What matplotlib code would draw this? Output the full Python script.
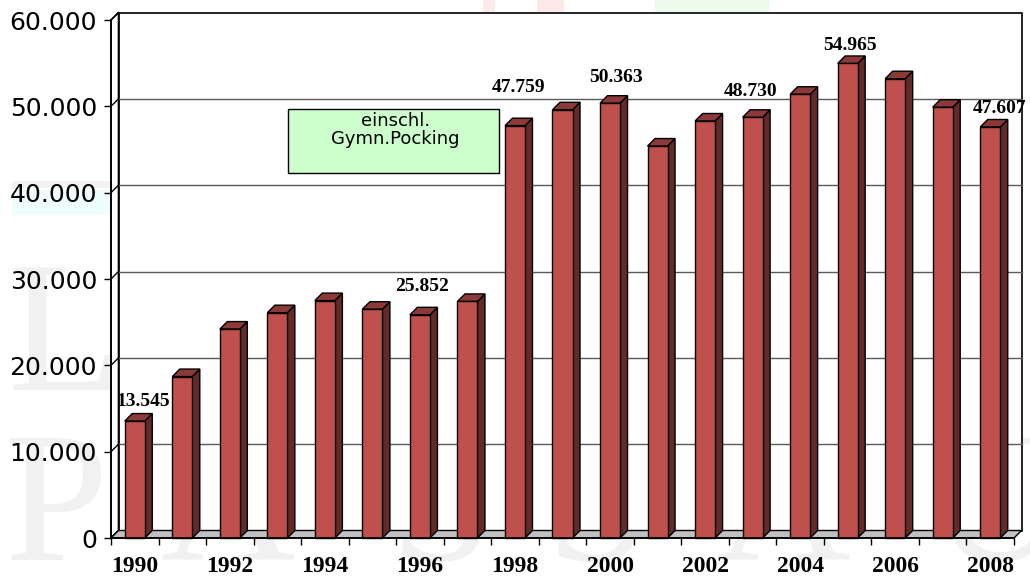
import numpy as np
import matplotlib
matplotlib.use("Agg")
import matplotlib.pyplot as plt
from matplotlib.patches import Polygon, Rectangle

########### data ###########
years = list(range(1990, 2009))
values = [13545, 18700, 24200, 26100, 27500, 26500, 25852, 27400, 47759, 49600,
          50363, 45400, 48300, 48730, 51400, 54965, 53200, 49900, 47607]
labelled_years = [1990, 1996, 1998, 2000, 2003, 2005, 2008]
y_ticks = [0, 10000, 20000, 30000, 40000, 50000, 60000]
y_tick_labels = ['0', '10.000', '20.000', '30.000', '40.000', '50.000', '60.000']
note_text = 'einschl.\nGymn.Pocking'

# label nudges in pixels (dx, gap above bar)
label_nudge = {1990: (5, 8), 1996: (-2, 16), 1998: (0, 26), 2000: (2, 14),
               2003: (-6, 14), 2005: (-1, 6), 2008: (6, 6)}

########### style ###########
front_col = '#c0504d'
side_col = '#632a2a'
top_col = '#8c3a39'
floor_col = '#c0c0c0'
grid_col = '#5a5a5a'
W, H = 1030, 582

fig = plt.figure(figsize=(W / 100, H / 100), dpi=100)
fig.patch.set_facecolor('white')

# faint background watermark (only visible in the margins)
wm = dict(family='Liberation Serif', color='#f1f1f1', zorder=-1, fontsize=134)
fig.text(8 / W, 1 - 390 / H, 'L', **wm)
for ch, px in zip('PASSAU', [5, 160, 390, 545, 715, 930]):
    fig.text(px / W, 1 - 560 / H, ch, **wm)
fig.patches.append(Rectangle((12 / W, 1 - 215 / H), 98 / W, 25 / H, transform=fig.transFigure,
                             facecolor='#effdfd', edgecolor='none', zorder=-1))
fig.patches.append(Rectangle((12 / W, 1 - 188 / H), 98 / W, 7 / H, transform=fig.transFigure,
                             facecolor='#f2f2f2', edgecolor='none', zorder=-1))
for x0, x1, c in [(483, 495, '#fdeaea'), (537, 564, '#fde8e8'), (655, 770, '#edfbed')]:
    fig.patches.append(Rectangle((x0 / W, 1 - 12 / H), (x1 - x0) / W, 12 / H,
                                 transform=fig.transFigure, facecolor=c,
                                 edgecolor='none', zorder=-1))

ax = fig.add_axes([111 / W, 44 / H, 903 / W, 518 / H])
ax.set_xlim(-0.5, 18.5)
ax.set_ylim(0, 60000)
ax.patch.set_alpha(0)

n = len(years)
x = np.arange(n)
dx = 7.5 / 47.5
dy = 7.5 / 518 * 60000
w = 20 / 47.5
left, right = -0.5, n - 0.5

# back wall
ax.add_patch(Polygon([(left + dx, dy), (right + dx, dy), (right + dx, 60000 + dy),
                      (left + dx, 60000 + dy)], closed=True, facecolor='white',
                     edgecolor='black', lw=1.2, clip_on=False, zorder=1))
# left side wall
ax.add_patch(Polygon([(left, 0), (left + dx, dy), (left + dx, 60000 + dy), (left, 60000)],
                     closed=True, facecolor='white', edgecolor='black', lw=1.2,
                     clip_on=False, zorder=1))
for v in y_ticks:
    if 0 < v < 60000:
        ax.plot([left + dx, right + dx], [v + dy, v + dy], color=grid_col, lw=1.0,
                clip_on=False, zorder=2)
    ax.plot([left, left + dx], [v, v + dy], color='black', lw=1.0, clip_on=False, zorder=2)

# floor
ax.add_patch(Polygon([(left, 0), (right, 0), (right + dx, dy), (left + dx, dy)], closed=True,
                     facecolor=floor_col, edgecolor='black', lw=1.0, clip_on=False, zorder=2))

# bars
ax.bar(x, values, width=w, color=front_col, edgecolor='black', lw=1.0, zorder=5,
       clip_on=False)
for i, v in enumerate(values):
    xr = i + w / 2
    xl = i - w / 2
    ax.add_patch(Polygon([(xr, 0), (xr + dx, dy), (xr + dx, v + dy), (xr, v)], closed=True,
                         facecolor=side_col, edgecolor='black', lw=1.0, clip_on=False, zorder=4))
    ax.add_patch(Polygon([(xl, v), (xr, v), (xr + dx, v + dy), (xl + dx, v + dy)], closed=True,
                         facecolor=top_col, edgecolor='black', lw=1.0, clip_on=False, zorder=4))

# value labels
for yr in labelled_years:
    i = years.index(yr)
    v = values[i]
    ox, oy = label_nudge[yr]
    ax.annotate('{:,}'.format(v).replace(',', '.'), xy=(i + dx / 2, v + dy),
                xytext=(ox * 0.72, oy * 0.72), textcoords='offset points',
                ha='center', va='baseline', family='Liberation Serif',
                fontweight='bold', fontsize=14, annotation_clip=False, zorder=6)

# note box
ax.add_patch(Rectangle((0.196, 0.7046), 0.2337, 0.1234, transform=ax.transAxes,
                       facecolor='#ccffcc', edgecolor='black', lw=1.0, zorder=6))
ax.text(0.3146, 0.822, note_text, transform=ax.transAxes, ha='center', va='top',
        fontsize=13, linespacing=1.0, family='DejaVu Sans', zorder=7)

# axes
for s in ['top', 'right']:
    ax.spines[s].set_visible(False)
ax.spines['left'].set_linewidth(1.2)
ax.spines['bottom'].set_linewidth(1.2)
ax.spines['left'].set_zorder(8)
ax.spines['bottom'].set_zorder(8)
ax.set_yticks(y_ticks)
ax.set_yticklabels(y_tick_labels, family='DejaVu Sans', fontsize=18)
ax.tick_params(axis='y', length=5, width=1, pad=5)
ax.set_xticks(x[::2])
ax.set_xticklabels([str(y) for y in years[::2]], family='Liberation Serif',
                   fontweight='bold', fontsize=17)
ax.set_xticks(np.arange(n + 1) - 0.5, minor=True)
ax.tick_params(axis='x', which='major', length=0, pad=13)
ax.tick_params(axis='x', which='minor', length=5, width=1)

plt.savefig('out.png', dpi=100)
